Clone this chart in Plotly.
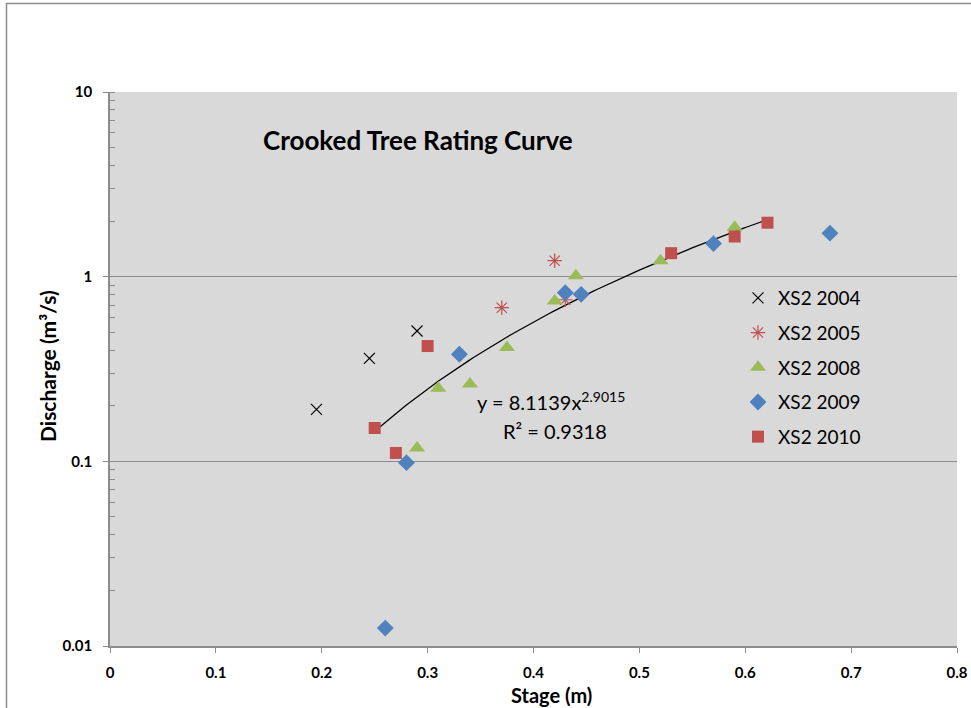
import numpy as np
import plotly.graph_objects as go

# ---- data ----
stage_2004 = [0.195, 0.245, 0.290]
q_2004 = [0.191, 0.361, 0.508]

stage_2005 = [0.370, 0.420, 0.430]
q_2005 = [0.679, 1.22, 0.75]

stage_2008 = [0.290, 0.310, 0.340, 0.375, 0.420, 0.440, 0.520, 0.590]
q_2008 = [0.118, 0.249, 0.262, 0.414, 0.738, 1.01, 1.22, 1.85]

stage_2009 = [0.260, 0.280, 0.330, 0.430, 0.445, 0.570, 0.680]
q_2009 = [0.0125, 0.0984, 0.380, 0.819, 0.802, 1.51, 1.72]

stage_2010 = [0.250, 0.270, 0.300, 0.530, 0.590, 0.621]
q_2010 = [0.1515, 0.111, 0.421, 1.34, 1.65, 1.96]

fit_a = 8.1139
fit_b = 2.9015
fit_r2 = 0.9318

y_tickvals = [0.01, 0.1, 1, 10]
y_ticktext = ["0.01", "0.1", "1", "10"]
x_tickvals = [0, 0.1, 0.2, 0.3, 0.4, 0.5, 0.6, 0.7, 0.8]
x_ticktext = ["0", "0.1", "0.2", "0.3", "0.4", "0.5", "0.6", "0.7", "0.8"]

FONT = "Lato"

fig = go.Figure()

# trendline (power fit shown on chart)
xf = np.linspace(min(stage_2010), max(stage_2010), 100)
fig.add_trace(go.Scatter(x=xf, y=fit_a * xf ** fit_b, mode="lines",
                         line=dict(color="black", width=1.3),
                         showlegend=False, hoverinfo="skip"))

fig.add_trace(go.Scatter(x=stage_2004, y=q_2004, mode="markers", name="XS2 2004",
                         legendgroup="a",
                         marker=dict(symbol="x-thin-open", size=11, color="black",
                                     line=dict(color="black", width=1.2))))
fig.add_trace(go.Scatter(x=stage_2005, y=q_2005, mode="markers", name="XS2 2005",
                         legendgroup="b",
                         marker=dict(symbol="asterisk-open", size=12, color="#C0504D",
                                     line=dict(color="#C0504D", width=1.2))))
fig.add_trace(go.Scatter(x=stage_2008, y=q_2008, mode="markers", name="XS2 2008",
                         legendgroup="c",
                         marker=dict(symbol="triangle-up", size=14, color="#9BBB59",
                                     line=dict(width=0))))
fig.add_trace(go.Scatter(x=stage_2009, y=q_2009, mode="markers", name="XS2 2009",
                         legendgroup="d",
                         marker=dict(symbol="diamond", size=13, color="#4F81BD",
                                     line=dict(width=0))))
fig.add_trace(go.Scatter(x=stage_2010, y=q_2010, mode="markers", name="XS2 2010",
                         legendgroup="e",
                         marker=dict(symbol="square", size=12, color="#C0504D",
                                     line=dict(width=0))))

tickfont = dict(family=FONT, size=15, color="black", weight="bold")

fig.update_xaxes(range=[0, 0.8], tickvals=x_tickvals, ticktext=x_ticktext,
                 ticks="outside", ticklen=5, tickcolor="#8C8C8C",
                 showline=True, linecolor="#8C8C8C", linewidth=1.5,
                 showgrid=False, zeroline=False, tickfont=tickfont,
                 ticklabelstandoff=7, automargin=False)
fig.update_yaxes(type="log", range=[-2, 1], tickvals=y_tickvals, ticktext=y_ticktext,
                 ticks="outside", ticklen=5, tickcolor="#8C8C8C",
                 showline=True, linecolor="#8C8C8C", linewidth=1.5,
                 showgrid=True, gridcolor="#8C8C8C", gridwidth=1,
                 zeroline=False, tickfont=tickfont, automargin=False,
                 ticklabelstandoff=8,
                 minor=dict(ticks="inside", ticklen=5, tickcolor="#8C8C8C",
                            dtick="D1", showgrid=False))

annotations = [
    dict(text="<b>Crooked Tree Rating Curve</b>", xref="paper", yref="paper",
         x=(418 - 110) / 847, y=(646 - 140) / 554, showarrow=False,
         xanchor="center", yanchor="middle",
         font=dict(family=FONT, size=26, color="black")),
    dict(text=f"y = {fit_a}x<sup>{fit_b}</sup>", xref="paper", yref="paper",
         x=(551 - 110) / 847, y=(646 - 401) / 554, showarrow=False,
         xanchor="center", yanchor="middle",
         font=dict(family=FONT, size=20, color="black")),
    dict(text=f"R² = {fit_r2}", xref="paper", yref="paper",
         x=(555 - 110) / 847, y=(646 - 431) / 554, showarrow=False,
         xanchor="center", yanchor="middle",
         font=dict(family=FONT, size=20, color="black")),
    dict(text="<b>Discharge (m³/s)</b>", xref="paper", yref="paper",
         x=(47 - 110) / 847, y=(646 - 366) / 554, showarrow=False,
         xanchor="center", yanchor="middle", textangle=-90,
         font=dict(family=FONT, size=21, color="black")),
    dict(text="<b>Stage (m)</b>", xref="paper", yref="paper",
         x=(551 - 110) / 847, y=(646 - 695) / 554, showarrow=False,
         xanchor="center", yanchor="middle",
         font=dict(family=FONT, size=20, color="black")),
]

shapes = [
    dict(type="rect", xref="paper", yref="paper",
         x0=(6.5 - 110) / 847, x1=1.2, y0=-0.3, y1=(646 - 3.5) / 554,
         line=dict(color="#8C8C8C", width=1.5), fillcolor="rgba(0,0,0,0)",
         layer="below"),
]

fig.update_layout(
    width=971, height=708,
    margin=dict(l=110, r=14, t=92, b=62, autoexpand=False),
    paper_bgcolor="white", plot_bgcolor="#D9D9D9",
    font=dict(family=FONT, color="black"),
    annotations=annotations, shapes=shapes,
    legend=dict(x=(738 - 110) / 847, y=(646 - 279) / 554, xanchor="left", yanchor="top",
                bgcolor="rgba(0,0,0,0)", font=dict(family=FONT, size=19, color="black"),
                tracegroupgap=7, itemwidth=30),
)

fig.write_html("out.html")
